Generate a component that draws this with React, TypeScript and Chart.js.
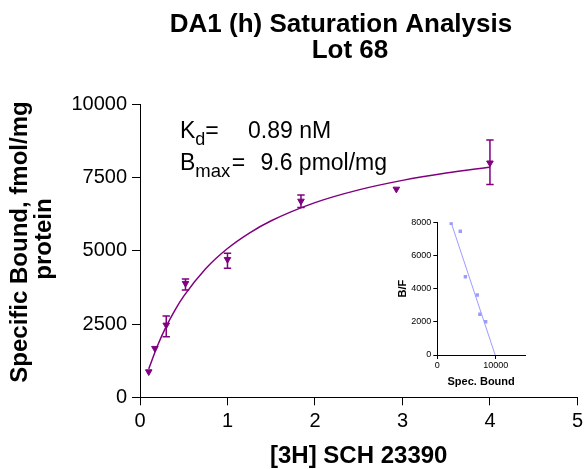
import React, { useEffect, useRef } from 'react';
import { Chart, registerables } from 'chart.js';

Chart.register(...registerables);

const FONT = "'Liberation Sans', Arial, Helvetica, sans-serif";
const PURPLE = '#800080';
const INSET_COLOR = '#9c9cff';

// ---- text ----
const titleLines = ['DA1 (h) Saturation Analysis', 'Lot 68'];
const xAxisTitle = '[3H] SCH 23390';
const yAxisTitleLines = ['Specific Bound, fmol/mg', 'protein'];
const kdValue = '0.89 nM';
const bmaxValue = '9.6 pmol/mg';
const insetXTitle = 'Spec. Bound';
const insetYTitle = 'B/F';

// ---- main axes ----
const xTicks = [0, 1, 2, 3, 4, 5];
const yTicks = [0, 2500, 5000, 7500, 10000];

// ---- main data (saturation) ----
const concentrations = [0.1, 0.17, 0.3, 0.52, 1.0, 1.84, 2.93, 4.0];
const boundMeans = [873, 1672, 2467, 3890, 4708, 6697, 7107, 8000];
const boundErrLow: (number | null)[] = [null, null, 2068, 3661, 4401, 6482, null, 7267];
const boundErrHigh: (number | null)[] = [null, null, 2774, 4036, 4913, 6902, null, 8780];

// ---- fitted curve ----
const fitX = [0.1, 0.2, 0.3, 0.4, 0.5, 0.75, 1.0, 1.25, 1.5, 2.0, 2.5, 3.0, 3.5, 4.0];
const fitY = [970, 1761, 2420, 2977, 3453, 4390, 5079, 5607, 6025, 6644, 7080, 7404, 7654, 7853];

// ---- inset (Scatchard) ----
const insetXTicks = [0, 10000];
const insetYTicks = [0, 2000, 4000, 6000, 8000];
const insetBound = [2374, 3934, 4800, 6830, 7280, 8270];
const insetBF = [7940, 7460, 4720, 3618, 2454, 2008];
const insetLineX = [2350, 9900];
const insetLineY = [8000, 0];

const mainPlugin = {
  id: 'mainDecor',
  afterDatasetsDraw(chart: any) {
    const { ctx, scales } = chart;
    const xs = scales.x;
    const ys = scales.y;
    ctx.save();
    ctx.strokeStyle = PURPLE;
    ctx.lineWidth = 1.5;
    concentrations.forEach((c, i) => {
      const lo = boundErrLow[i];
      const hi = boundErrHigh[i];
      if (lo == null || hi == null) return;
      const px = xs.getPixelForValue(c);
      const pl = ys.getPixelForValue(lo);
      const ph = ys.getPixelForValue(hi);
      ctx.beginPath();
      ctx.moveTo(px, pl);
      ctx.lineTo(px, ph);
      ctx.moveTo(px - 3.7, pl);
      ctx.lineTo(px + 3.7, pl);
      ctx.moveTo(px - 3.7, ph);
      ctx.lineTo(px + 3.7, ph);
      ctx.stroke();
    });
    ctx.restore();
  },
  afterDraw(chart: any) {
    const { ctx, chartArea } = chart;
    ctx.save();
    ctx.fillStyle = '#000';
    ctx.textBaseline = 'alphabetic';
    // title
    ctx.font = `bold 26px ${FONT}`;
    ctx.textAlign = 'center';
    ctx.fillText(titleLines[0], 341, 31.7);
    ctx.fillText(titleLines[1], 350, 58.3);
    // x axis title
    ctx.font = `bold 24px ${FONT}`;
    ctx.fillText(xAxisTitle, (chartArea.left + chartArea.right) / 2, 463);
    // y axis title
    ctx.save();
    ctx.translate(27.3, 242);
    ctx.rotate(-Math.PI / 2);
    ctx.fillText(yAxisTitleLines[0], 0, 0);
    ctx.restore();
    ctx.save();
    ctx.translate(50.5, 239);
    ctx.rotate(-Math.PI / 2);
    ctx.fillText(yAxisTitleLines[1], 0, 0);
    ctx.restore();
    // annotation
    ctx.textAlign = 'left';
    ctx.font = `23px ${FONT}`;
    ctx.fillText('K', 180, 138.3);
    let w = ctx.measureText('K').width;
    ctx.font = `18px ${FONT}`;
    ctx.fillText('d', 180 + w, 145);
    const wd = ctx.measureText('d').width;
    ctx.font = `23px ${FONT}`;
    ctx.fillText('=', 180 + w + wd, 138.3);
    ctx.fillText(kdValue, 248, 138.3);
    ctx.fillText('B', 180, 170);
    w = ctx.measureText('B').width;
    ctx.font = `18.5px ${FONT}`;
    ctx.fillText('max', 180 + w, 176.5);
    const wm = ctx.measureText('max').width;
    ctx.font = `23px ${FONT}`;
    ctx.fillText('=', 180 + w + wm + 1.5, 170);
    ctx.fillText(bmaxValue, 260.5, 170);
    ctx.restore();
  },
};

const insetPlugin = {
  id: 'insetDecor',
  afterDraw(chart: any) {
    const { ctx, chartArea } = chart;
    ctx.save();
    ctx.fillStyle = '#000';
    ctx.textBaseline = 'alphabetic';
    ctx.textAlign = 'center';
    ctx.font = `bold 11px ${FONT}`;
    ctx.fillText(insetXTitle, (chartArea.left + chartArea.right) / 2, 180);
    ctx.translate(15.5, (chartArea.top + chartArea.bottom) / 2);
    ctx.rotate(-Math.PI / 2);
    ctx.fillText(insetYTitle, 0, 0);
    ctx.restore();
  },
};

export default function App() {
  const mainRef = useRef<HTMLCanvasElement>(null);
  const insetRef = useRef<HTMLCanvasElement>(null);

  useEffect(() => {
    if (!mainRef.current || !insetRef.current) return;
    Chart.defaults.font.family = FONT;

    const main = new Chart(mainRef.current, {
      type: 'scatter',
      data: {
        datasets: [
          {
            data: fitX.map((x, i) => ({ x, y: fitY[i] })),
            showLine: true,
            borderColor: PURPLE,
            borderWidth: 1.5,
            pointRadius: 0,
            cubicInterpolationMode: 'monotone',
            fill: false,
          } as any,
          {
            data: concentrations.map((x, i) => ({ x, y: boundMeans[i] })),
            pointStyle: 'triangle',
            rotation: 180,
            pointRadius: 3.8,
            borderWidth: 1,
            backgroundColor: PURPLE,
            borderColor: PURPLE,
            showLine: false,
          } as any,
        ],
      },
      options: {
        animation: false,
        responsive: false,
        events: [],
        layout: { padding: { left: 0, right: 6.3, top: 104.3, bottom: 0 } },
        plugins: { legend: { display: false }, tooltip: { enabled: false }, title: { display: false } },
        scales: {
          x: {
            type: 'linear',
            min: xTicks[0],
            max: xTicks[xTicks.length - 1],
            afterBuildTicks: (s: any) => { s.ticks = xTicks.map((v) => ({ value: v })); },
            afterFit: (s: any) => { s.height = 71.7; },
            ticks: { color: '#000', font: { size: 20, family: FONT }, padding: 4, maxRotation: 0, callback: (v: any) => String(v) },
            grid: { drawOnChartArea: false, drawTicks: true, tickLength: 8, color: '#000', lineWidth: 1 },
            border: { display: true, color: '#000', width: 1 },
          },
          y: {
            type: 'linear',
            min: yTicks[0],
            max: yTicks[yTicks.length - 1],
            afterBuildTicks: (s: any) => { s.ticks = yTicks.map((v) => ({ value: v })); },
            afterFit: (s: any) => { s.width = 140; },
            ticks: { color: '#000', font: { size: 20, family: FONT }, padding: 5, callback: (v: any) => String(v) },
            grid: { drawOnChartArea: false, drawTicks: true, tickLength: 8, color: '#000', lineWidth: 1 },
            border: { display: true, color: '#000', width: 1 },
          },
        },
      } as any,
      plugins: [mainPlugin],
    });

    const inset = new Chart(insetRef.current, {
      type: 'scatter',
      data: {
        datasets: [
          {
            data: insetLineX.map((x, i) => ({ x, y: insetLineY[i] })),
            showLine: true,
            borderColor: INSET_COLOR,
            borderWidth: 1,
            pointRadius: 0,
            fill: false,
          } as any,
          {
            data: insetBound.map((x, i) => ({ x, y: insetBF[i] })),
            pointStyle: 'rect',
            pointRadius: 2.4,
            borderWidth: 0,
            backgroundColor: INSET_COLOR,
            showLine: false,
          } as any,
        ],
      },
      options: {
        animation: false,
        responsive: false,
        events: [],
        layout: { padding: { left: 0, right: 10, top: 17.3, bottom: 0 } },
        plugins: { legend: { display: false }, tooltip: { enabled: false }, title: { display: false } },
        scales: {
          x: {
            type: 'linear',
            min: 0,
            max: 15000,
            afterBuildTicks: (s: any) => { s.ticks = insetXTicks.map((v) => ({ value: v })); },
            afterFit: (s: any) => { s.height = 40; },
            ticks: { color: '#000', font: { size: 9, family: FONT }, padding: 1, maxRotation: 0, callback: (v: any) => String(v) },
            grid: { drawOnChartArea: false, drawTicks: true, tickLength: 4, color: '#000', lineWidth: 1 },
            border: { display: true, color: '#000', width: 1 },
          },
          y: {
            type: 'linear',
            min: insetYTicks[0],
            max: insetYTicks[insetYTicks.length - 1],
            afterBuildTicks: (s: any) => { s.ticks = insetYTicks.map((v) => ({ value: v })); },
            afterFit: (s: any) => { s.width = 47.3; },
            ticks: { color: '#000', font: { size: 9, family: FONT }, padding: 2, callback: (v: any) => String(v) },
            grid: { drawOnChartArea: false, drawTicks: true, tickLength: 4, color: '#000', lineWidth: 1 },
            border: { display: true, color: '#000', width: 1 },
          },
        },
      } as any,
      plugins: [insetPlugin],
    });

    return () => {
      main.destroy();
      inset.destroy();
    };
  }, []);

  return (
    <div style={{ position: 'absolute', left: 0, top: 0, width: 587, height: 469, background: '#fff' }}>
      <canvas
        ref={mainRef}
        width={587}
        height={469}
        style={{ position: 'absolute', left: 0, top: 0, width: 587, height: 469 }}
      />
      <canvas
        ref={insetRef}
        width={145}
        height={190}
        style={{ position: 'absolute', left: 390, top: 205, width: 145, height: 190 }}
      />
    </div>
  );
}
